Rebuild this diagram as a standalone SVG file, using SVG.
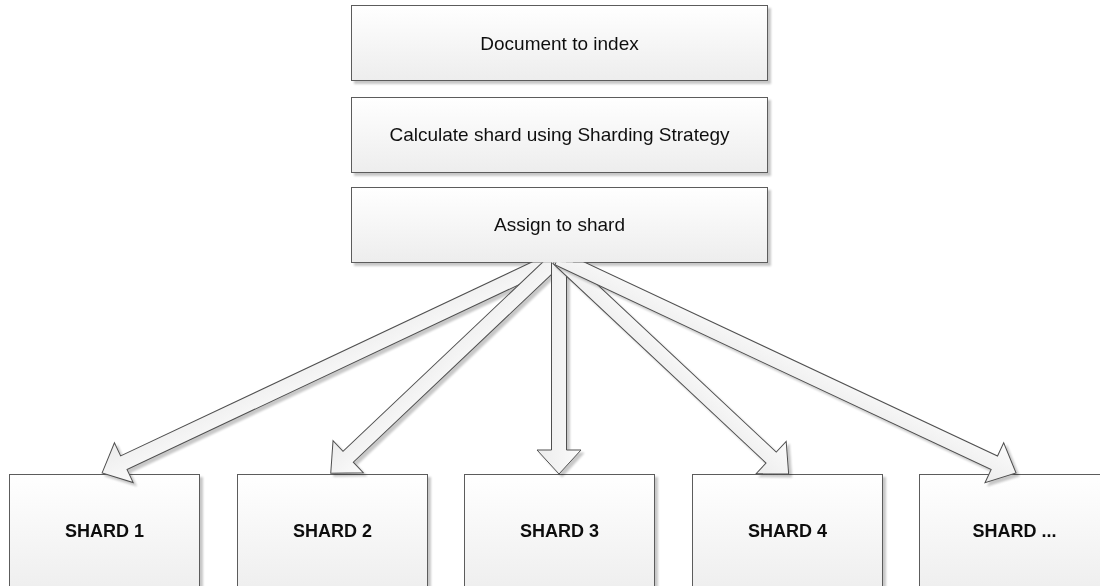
<svg xmlns="http://www.w3.org/2000/svg" width="1100" height="586" viewBox="0 0 1100 586">
<defs>
<linearGradient id="boxGrad" x1="0" y1="0" x2="0" y2="1">
<stop offset="0" stop-color="#ffffff"/>
<stop offset="1" stop-color="#ededed"/>
</linearGradient>
<linearGradient id="arrowGrad" x1="0" y1="0" x2="0" y2="1">
<stop offset="0" stop-color="#fbfbfb"/>
<stop offset="1" stop-color="#ececec"/>
</linearGradient>
<filter id="shadow" x="-10%" y="-10%" width="130%" height="130%">
<feGaussianBlur in="SourceAlpha" stdDeviation="1"/>
<feOffset dx="3" dy="3" result="off"/>
<feComponentTransfer><feFuncA type="linear" slope="0.22"/></feComponentTransfer>
<feMerge><feMergeNode/><feMergeNode in="SourceGraphic"/></feMerge>
</filter>
<clipPath id="below">
<rect x="0" y="262.5" width="1100" height="330"/>
</clipPath>
</defs>
<style>
.box{fill:url(#boxGrad);stroke:#5c5c5c;stroke-width:1}
.arrow{fill:url(#arrowGrad);stroke:#505050;stroke-width:1;stroke-linejoin:miter}
.lbl{font-family:"Liberation Sans",Arial,sans-serif;font-size:19px;fill:#111;text-anchor:middle}
.slbl{font-family:"Liberation Sans",Arial,sans-serif;font-size:18px;font-weight:bold;fill:#111;text-anchor:middle}
</style>
<rect width="1100" height="586" fill="#ffffff"/>
<g id="doc" filter="url(#shadow)">
<rect class="box" x="351.5" y="5.5" width="416" height="75"/>
<text class="lbl" x="559.5" y="50">Document to index</text>
</g>
<g id="calc" filter="url(#shadow)">
<rect class="box" x="351.5" y="97.5" width="416" height="75"/>
<text class="lbl" x="559.5" y="141">Calculate shard using Sharding Strategy</text>
</g>
<g id="assign" filter="url(#shadow)">
<rect class="box" x="351.5" y="187.5" width="416" height="75"/>
<text class="lbl" x="559.5" y="231">Assign to shard</text>
</g>
<g id="shard1" filter="url(#shadow)">
<rect class="box" x="9.5" y="474.5" width="190" height="125"/>
<text class="slbl" x="104.5" y="537">SHARD 1</text>
</g>
<g id="shard2" filter="url(#shadow)">
<rect class="box" x="237.5" y="474.5" width="190" height="125"/>
<text class="slbl" x="332.5" y="537">SHARD 2</text>
</g>
<g id="shard3" filter="url(#shadow)">
<rect class="box" x="464.5" y="474.5" width="190" height="125"/>
<text class="slbl" x="559.5" y="537">SHARD 3</text>
</g>
<g id="shard4" filter="url(#shadow)">
<rect class="box" x="692.5" y="474.5" width="190" height="125"/>
<text class="slbl" x="787.5" y="537">SHARD 4</text>
</g>
<g id="shard5" filter="url(#shadow)">
<rect class="box" x="919.5" y="474.5" width="190" height="125"/>
<text class="slbl" x="1014.5" y="537">SHARD ...</text>
</g>
<g id="connectors" clip-path="url(#below)">
<g filter="url(#shadow)"><path class="arrow" transform="translate(558,258) rotate(154.76)" d="M0,-7.5 H480 V-22 L504,0 L480,22 V7.5 H0 Z"/></g>
<g filter="url(#shadow)"><path class="arrow" transform="translate(558,258) rotate(136.56)" d="M0,-7.5 H289 V-22 L313,0 L289,22 V7.5 H0 Z"/></g>
<g filter="url(#shadow)"><path class="arrow" transform="translate(559,258) rotate(90)" d="M0,-7.5 H192 V-22 L216,0 L192,22 V7.5 H0 Z"/></g>
<g filter="url(#shadow)"><path class="arrow" transform="translate(558,258) rotate(43.12)" d="M0,-7.5 H292 V-22 L316,0 L292,22 V7.5 H0 Z"/></g>
<g filter="url(#shadow)"><path class="arrow" transform="translate(558,258) rotate(25.14)" d="M0,-7.5 H482 V-22 L506,0 L482,22 V7.5 H0 Z"/></g>
</g>
</svg>
